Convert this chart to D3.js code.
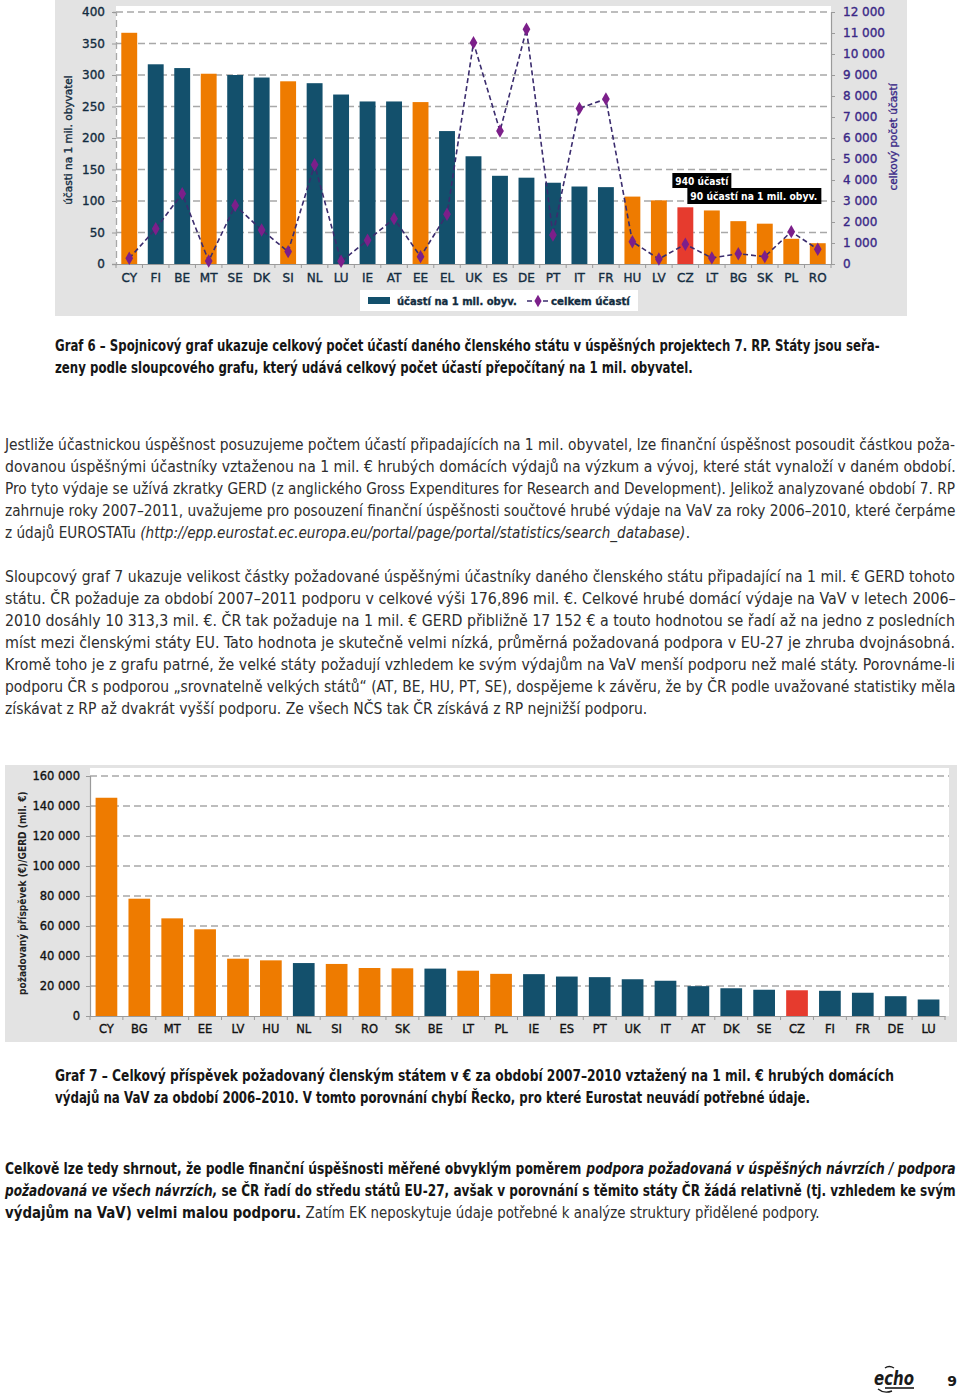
<!DOCTYPE html>
<html><head><meta charset="utf-8">
<script src="https://cdn.jsdelivr.net/npm/d3@7/dist/d3.min.js"></script>
<style>
html,body{margin:0;padding:0;background:#fff;}
svg text{white-space:pre;}
</style></head>
<body>
<svg id="page" width="960" height="1394"></svg>
<script>
// ---------- DATA ----------
const cats1 = ["CY","FI","BE","MT","SE","DK","SI","NL","LU","IE","AT","EE","EL","UK","ES","DE","PT","IT","FR","HU","LV","CZ","LT","BG","SK","PL","RO"];
const perMillion = [367,317,311,302,300,296,290,287,269,258,258,257,211,171,140,137,129,123,122,107,101,90,85,68,64,40,33];
const totalParticipations = [270,1680,3350,143,2790,1620,590,4730,127,1130,2160,350,2370,10540,6330,11180,1380,7410,7860,1060,240,940,290,490,350,1540,700];
const ticksLeft1 = [0,50,100,150,200,250,300,350,400];
const ticksRight1 = [0,1000,2000,3000,4000,5000,6000,7000,8000,9000,10000,11000,12000];

const cats2 = ["CY","BG","MT","EE","LV","HU","NL","SI","RO","SK","BE","LT","PL","IE","ES","PT","UK","IT","AT","DK","SE","CZ","FI","FR","DE","LU"];
const requestPerGerd = [145500,78200,65100,57800,38200,37100,35300,34700,32000,31800,31600,30200,28100,27900,26300,25900,24500,23500,19900,18500,17500,17152,16800,15500,13200,11000];
const ticks2 = [0,20000,40000,60000,80000,100000,120000,140000,160000];

const newMembers = ["CY","MT","SI","EE","HU","LV","LT","BG","SK","PL","RO"];
const highlight = "CZ";

const legendLabels = ["účastí na 1 mil. obyv.","celkem účastí"];
const annotation = ["940 účastí","90 účastí na 1 mil. obyv."];

// ---------- STYLE ----------
const C = {navy:"#13506c", orange:"#ee7b00", red:"#e63b2e", panel:"#e3e3e3", grid:"#a8a8a8",
  axis:"#9a9a9a", line:"#3b2c6e", marker:"#7c1f8a", purple:"#3a2886", dark:"#132c40"};
const colorOf = c => c===highlight ? C.red : (newMembers.includes(c) ? C.orange : C.navy);
const loc = d3.formatLocale({decimal:",", thousands:"\u00a0", grouping:[3], currency:["",""]});
const fmt = loc.format(",");

const svg = d3.select("#page");
svg.append("rect").attr("width",960).attr("height",1394).attr("fill","#fff");
const chartFont = "'DejaVu Sans', Verdana, sans-serif";
function heavy(sel, fill) {
  sel.attr("fill",fill).attr("stroke",fill).attr("stroke-width",0.35);
}
// fit a text horizontally into width w by scaling (keeps bounding boxes honest)
function fitText(parent, x, y, w, str, attrs) {
  const g = parent.append("g");
  const t = g.append("text").attr("x",0).attr("y",0).text(str);
  Object.entries(attrs).forEach(([k,v])=>t.attr(k,v));
  const n = t.node().getComputedTextLength();
  g.attr("transform",`translate(${x},${y}) scale(${w/n},1)`);
  return t;
}

// ================= CHART 1 =================
{
  const L=116, R=831, T=12, B=264;
  const g = svg.append("g");
  g.append("rect").attr("x",55).attr("y",0).attr("width",852).attr("height",316).attr("fill",C.panel);
  g.append("rect").attr("x",L).attr("y",6).attr("width",R-L).attr("height",B-6).attr("fill","#fff");

  const x = d3.scaleBand().domain(cats1).range([L,R]).paddingInner(0.4).paddingOuter(0.2);
  const yL = d3.scaleLinear().domain([0,400]).range([B,T]);
  const yR = d3.scaleLinear().domain([0,12000]).range([B,T]);

  g.append("g").selectAll("line").data(ticksLeft1.filter(d=>d>0)).join("line")
    .attr("x1",L).attr("x2",R).attr("y1",d=>yL(d)).attr("y2",d=>yL(d))
    .attr("stroke",C.grid).attr("stroke-width",1.3).attr("stroke-dasharray","7,4");

  const ax = g.append("g").attr("transform",`translate(${L},0)`)
    .call(d3.axisLeft(yL).tickValues(ticksLeft1).tickSize(4).tickPadding(7));
  ax.select(".domain").attr("stroke",C.grid).attr("stroke-width",1.3).attr("stroke-dasharray","7,4");
  ax.selectAll(".tick line").attr("stroke",C.axis);
  heavy(ax.selectAll("text").attr("font-family",chartFont).attr("font-size",12), C.dark);

  const ar = g.append("g").attr("transform",`translate(${R},0)`)
    .call(d3.axisRight(yR).tickValues(ticksRight1).tickSize(4).tickPadding(8).tickFormat(fmt));
  ar.select(".domain").attr("stroke",C.axis).attr("stroke-width",1.2);
  ar.selectAll(".tick line").attr("stroke",C.axis);
  heavy(ar.selectAll("text").attr("font-family",chartFont).attr("font-size",12), C.purple);

  g.append("g").selectAll("rect").data(cats1).join("rect")
    .attr("x",c=>x(c)).attr("width",x.bandwidth())
    .attr("y",(c,i)=>yL(perMillion[i])).attr("height",(c,i)=>B-yL(perMillion[i]))
    .attr("fill",colorOf);

  const ab = g.append("g").attr("transform",`translate(0,${B})`)
    .call(d3.axisBottom(x).tickSize(0).tickPadding(9));
  ab.select(".domain").attr("stroke",C.axis).attr("stroke-width",1.2);
  heavy(ab.selectAll("text").attr("font-family",chartFont).attr("font-size",12), C.dark);
  const step = x.step();
  g.append("g").selectAll("line").data(d3.range(cats1.length+1)).join("line")
    .attr("x1",i=>L+i*step).attr("x2",i=>L+i*step).attr("y1",B).attr("y2",B+4)
    .attr("stroke",C.axis);

  const cx = c => x(c)+x.bandwidth()/2;
  g.append("path").datum(cats1)
    .attr("d", d3.line().x(cx).y((c,i)=>yR(totalParticipations[i])))
    .attr("fill","none").attr("stroke",C.line).attr("stroke-width",1.6).attr("stroke-dasharray","5,3");
  g.append("g").selectAll("path").data(cats1).join("path")
    .attr("transform",(c,i)=>`translate(${cx(c)},${yR(totalParticipations[i])})`)
    .attr("d", d3.symbol(d3.symbolDiamond,52)).attr("fill",C.marker);

  const czx = cx(highlight);
  g.append("rect").attr("x",czx-13).attr("y",173).attr("width",59).attr("height",15).attr("fill","#000");
  fitText(g, czx-10, 184.5, 53, annotation[0],
    {"font-family":chartFont,"font-size":11,"font-weight":"bold","fill":"#fff"});
  g.append("rect").attr("x",czx+2).attr("y",188).attr("width",134).attr("height",16).attr("fill","#000");
  fitText(g, czx+5, 200, 127, annotation[1],
    {"font-family":chartFont,"font-size":11,"font-weight":"bold","fill":"#fff"});

  heavy(g.append("text").attr("transform","translate(72,140) rotate(-90)").attr("text-anchor","middle")
    .attr("font-family",chartFont).attr("font-size",10.5).text("účasti na 1 mil. obyvatel"), C.dark);
  heavy(g.append("text").attr("transform","translate(897,137) rotate(-90)").attr("text-anchor","middle")
    .attr("font-family",chartFont).attr("font-size",10.5).text("celkový počet účastí"), C.purple);

  const lg = g.append("g");
  lg.append("rect").attr("x",360).attr("y",290).attr("width",278).attr("height",21).attr("fill","#fff");
  lg.append("rect").attr("x",368).attr("y",297).attr("width",22).attr("height",7).attr("fill",C.navy);
  heavy(fitText(lg, 397, 305, 120, legendLabels[0],
    {"font-family":chartFont,"font-size":11,"font-weight":"bold"}), C.dark);
  lg.append("line").attr("x1",527).attr("x2",549).attr("y1",301).attr("y2",301)
    .attr("stroke",C.line).attr("stroke-width",1.6).attr("stroke-dasharray","5,3");
  lg.append("path").attr("transform","translate(538,301)").attr("d",d3.symbol(d3.symbolDiamond,45)).attr("fill",C.marker);
  heavy(fitText(lg, 551, 305, 79, legendLabels[1],
    {"font-family":chartFont,"font-size":11,"font-weight":"bold"}), C.dark);
}

// ================= CHART 2 =================
{
  const L=90, R=945, T=776, B=1016;
  const g = svg.append("g");
  g.append("rect").attr("x",5).attr("y",765).attr("width",952).attr("height",277).attr("fill",C.panel);
  g.append("rect").attr("x",L).attr("y",768).attr("width",949-L).attr("height",B-768).attr("fill","#fff");

  const x = d3.scaleBand().domain(cats2).range([L,R]).paddingInner(0.34).paddingOuter(0.17);
  const y = d3.scaleLinear().domain([0,160000]).range([B,T]);

  g.append("g").selectAll("line").data(ticks2.filter(d=>d>0)).join("line")
    .attr("x1",L).attr("x2",949).attr("y1",d=>y(d)).attr("y2",d=>y(d))
    .attr("stroke",C.grid).attr("stroke-width",1.3).attr("stroke-dasharray","7,4");

  const ax = g.append("g").attr("transform",`translate(${L},0)`)
    .call(d3.axisLeft(y).tickValues(ticks2).tickSize(4).tickPadding(6).tickFormat(fmt));
  ax.select(".domain").attr("stroke",C.axis).attr("stroke-width",1.2);
  ax.selectAll(".tick line").attr("stroke",C.axis);
  heavy(ax.selectAll("text").attr("font-family",chartFont).attr("font-size",11.5), "#111");

  g.append("g").selectAll("rect").data(cats2).join("rect")
    .attr("x",c=>x(c)).attr("width",x.bandwidth())
    .attr("y",(c,i)=>y(requestPerGerd[i])).attr("height",(c,i)=>B-y(requestPerGerd[i]))
    .attr("fill",colorOf);

  const ab = g.append("g").attr("transform",`translate(0,${B})`)
    .call(d3.axisBottom(x).tickSize(0).tickPadding(9));
  ab.select(".domain").attr("stroke",C.axis).attr("stroke-width",1.2);
  heavy(ab.selectAll("text").attr("font-family",chartFont).attr("font-size",11.5), "#111");
  const step = x.step();
  g.append("g").selectAll("line").data(d3.range(cats2.length+1)).join("line")
    .attr("x1",i=>L+i*step).attr("x2",i=>L+i*step).attr("y1",B).attr("y2",B+4)
    .attr("stroke",C.axis);

  const tg = g.append("g").attr("transform","translate(26,893) rotate(-90)");
  fitText(tg, -102, 0, 204, "požadovaný příspěvek (€)/GERD (mil. €)",
    {"font-family":chartFont,"font-size":10,"font-weight":"bold","fill":"#222"});
}

// ================= TEXT =================
const bodyFont = "'Liberation Sans Narrow', 'DejaVu Sans Condensed', 'Liberation Sans', sans-serif";
// each style segment is its own <text>, scaled so the whole line spans x0..x1
function line(x0, x1, yb, segs, base) {
  const items = segs.map(s=>{
    if (typeof s === "string") s = {t:s};
    const g = svg.append("g");
    const t = g.append("text").attr("x",0).attr("y",0)
      .attr("font-family",bodyFont).attr("font-size",base.size||15)
      .attr("font-weight",s.w||base.weight||"normal").attr("fill",s.f||base.fill||"#2b2b2b")
      .text(s.t);
    if (s.i) t.attr("font-style","italic");
    return {g, w:t.node().getComputedTextLength()};
  });
  const k = (x1-x0)/d3.sum(items, d=>d.w);
  let cx = x0;
  items.forEach(it=>{
    it.g.attr("transform",`translate(${cx},${yb}) scale(${k},1)`);
    cx += it.w*k;
  });
}
const cap = {size:15.5, weight:"bold", fill:"#161616"};
line(55,880,351,["Graf 6 – Spojnicový graf ukazuje celkový počet účastí daného členského státu v úspěšných projektech 7. RP. Státy jsou seřa-"],cap);
line(55,693,373,["zeny podle sloupcového grafu, který udává celkový počet účastí přepočítaný na 1 mil. obyvatel."],cap);

const body = {size:15.5, fill:"#2e2e2e"};
const p1 = [
 "Jestliže účastnickou úspěšnost posuzujeme počtem účastí připadajících na 1 mil. obyvatel, lze finanční úspěšnost posoudit částkou poža-",
 "dovanou úspěšnými účastníky vztaženou na 1 mil. € hrubých domácích výdajů na výzkum a vývoj, které stát vynaloží v daném období.",
 "Pro tyto výdaje se užívá zkratky GERD (z anglického Gross Expenditures for Research and Development). Jelikož analyzované období 7. RP",
 "zahrnuje roky 2007–2011, uvažujeme pro posouzení finanční úspěšnosti součtové hrubé výdaje na VaV za roky 2006–2010, které čerpáme"];
p1.forEach((s,i)=>line(5,956,450+22*i,[s],body));
line(5,690,538,["z údajů EUROSTATu ",{t:"(http://epp.eurostat.ec.europa.eu/portal/page/portal/statistics/search_database)",i:true},"."],body);

const p2 = [
 "Sloupcový graf 7 ukazuje velikost částky požadované úspěšnými účastníky daného členského státu připadající na 1 mil. € GERD tohoto",
 "státu. ČR požaduje za období 2007–2011 podporu v celkové výši 176,896 mil. €. Celkové hrubé domácí výdaje na VaV v letech 2006–",
 "2010 dosáhly 10 313,3 mil. €. ČR tak požaduje na 1 mil. € GERD přibližně 17 152 € a touto hodnotou se řadí až na jedno z posledních",
 "míst mezi členskými státy EU. Tato hodnota je skutečně velmi nízká, průměrná požadovaná podpora v EU-27 je zhruba dvojnásobná.",
 "Kromě toho je z grafu patrné, že velké státy požadují vzhledem ke svým výdajům na VaV menší podporu než malé státy. Porovnáme-li",
 "podporu ČR s podporou „srovnatelně velkých států“ (AT, BE, HU, PT, SE), dospějeme k závěru, že by ČR podle uvažované statistiky měla"];
p2.forEach((s,i)=>line(5,956,582+22*i,[s],body));
line(5,648,714,["získávat z RP až dvakrát vyšší podporu. Ze všech NČS tak ČR získává z RP nejnižší podporu."],body);

line(55,895,1081,["Graf 7 – Celkový příspěvek požadovaný členským státem v € za období 2007–2010 vztažený na 1 mil. € hrubých domácích"],cap);
line(55,811,1103,["výdajů na VaV za období 2006–2010. V tomto porovnání chybí Řecko, pro které Eurostat neuvádí potřebné údaje."],cap);

const fin = {size:15.5, weight:"bold", fill:"#161616"};
line(5,956,1174,["Celkově lze tedy shrnout, že podle finanční úspěšnosti měřené obvyklým poměrem ",{t:"podpora požadovaná v úspěšných návrzích / podpora",i:true}],fin);
line(5,956,1196,[{t:"požadovaná ve všech návrzích,",i:true}," se ČR řadí do středu států EU-27, avšak v porovnání s těmito státy ČR žádá relativně (tj. vzhledem ke svým"],fin);
line(5,820,1218,["výdajům na VaV) velmi malou podporu.",{t:" Zatím EK neposkytuje údaje potřebné k analýze struktury přidělené podpory.",w:"normal",f:"#2e2e2e"}],fin);

// footer
fitText(svg, 874, 1385, 40, "echo",
  {"font-family":"'DejaVu Sans', sans-serif","font-size":20,"font-style":"italic","font-weight":"bold","fill":"#1a1a1a"});
svg.append("line").attr("x1",885).attr("x2",914).attr("y1",1388).attr("y2",1388).attr("stroke","#1a1a1a").attr("stroke-width",1.6);
svg.append("path").attr("d","M878,1389 Q884,1394 892,1391").attr("fill","none").attr("stroke","#1a1a1a").attr("stroke-width",1.4);
svg.append("path").attr("d","M885,1368 Q889,1365 894,1368").attr("fill","none").attr("stroke","#1a1a1a").attr("stroke-width",1.4);
svg.append("text").attr("x",952).attr("y",1386).attr("text-anchor","middle").attr("font-family","'DejaVu Sans', sans-serif")
  .attr("font-size",14).attr("font-weight","bold").attr("fill","#1a1a1a").text("9");
</script>
</body></html>
